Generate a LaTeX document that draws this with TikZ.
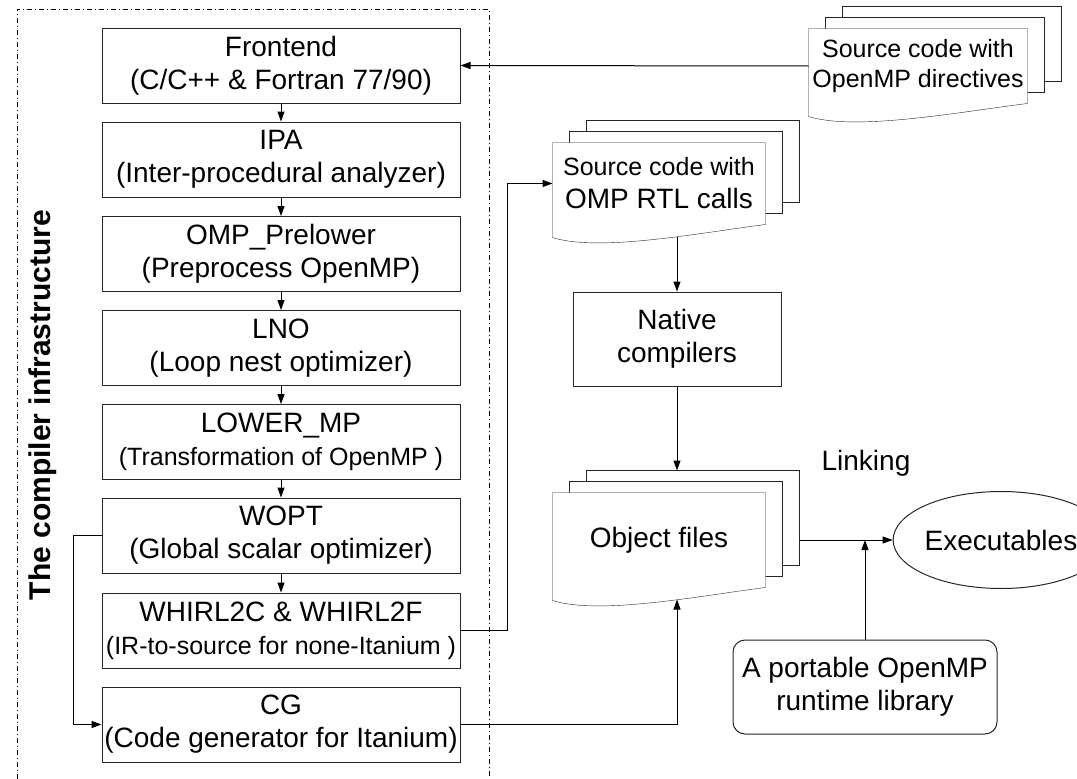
\documentclass[tikz,border=0pt]{standalone}
\usepackage{fontspec}
\setmainfont{Liberation Sans}
\usetikzlibrary{arrows.meta,backgrounds,calc,shapes.geometric}

\newcommand{\subtext}{\fontsize{25}{30}\selectfont}

% three stacked sheets behind a document node, wavy bottom on the front sheet
\newcommand{\sheetstack}[1]{%
  \begin{scope}[on background layer]
    \foreach \k in {2,1} {
      \draw[sheet] ([xshift=\k*17pt,yshift=\k*11pt]#1.south west) rectangle ([xshift=\k*17pt,yshift=\k*11pt]#1.north east);
    }
    \draw[sheet] (#1.north west) -- (#1.north east) -- (#1.south east)
      .. controls ([yshift=-8pt]$(#1.south east)!0.3!(#1.south west)$) and ([yshift=-28pt]$(#1.south west)!0.22!(#1.south east)$) .. ([yshift=-13pt]#1.south west) -- cycle;
  \end{scope}
}

\begin{document}
\begin{tikzpicture}[
        x=1pt, y=-1pt, % pixel grid, y downwards
        line width=1pt,
        font=\fontsize{28}{33}\selectfont,
        >={Triangle[length=10pt,width=7pt]},
        phase/.style={rectangle, draw=black!85, minimum width=358pt, minimum height=75pt, inner sep=0pt, align=center},
        box/.style={rectangle, draw=black!85, minimum width=208pt, minimum height=94pt, inner sep=0pt, align=center},
        doc/.style={rectangle, minimum width=212pt, inner sep=0pt, align=center},
        sheet/.style={draw=black!85, fill=white},
        frame/.style={line width=0.8pt, dash pattern=on 5pt off 3pt on 1pt off 3pt}
    ]
    \useasboundingbox (0,0) rectangle (1077,779);

    % Compiler frame and its title
    \draw[frame] (17,779) -- (17,9) -- (489,9) -- (489,779);
    \node[rotate=90, font=\bfseries\fontsize{30}{36}\selectfont] (infra) at (43,405) {The compiler infrastructure};

    % Compiler phases
    \node[phase] (fe) at (281,65.5) {Frontend\\(C/C++ \& Fortran 77/90)};
    \node[phase] (ipa) at (281,159.5) {IPA\\(Inter-procedural analyzer)};
    \node[phase] (pre) at (281,254) {OMP\_Prelower\\(Preprocess OpenMP)};
    \node[phase] (lno) at (281,348) {LNO\\(Loop nest optimizer)};
    \node[phase] (lmp) at (281,442) {LOWER\_MP\\{\subtext (Transformation of OpenMP )}};
    \node[phase] (wopt) at (281,535.5) {WOPT\\(Global scalar optimizer)};
    \node[phase] (w2c) at (281,630.5) {WHIRL2C \& WHIRL2F\\{\subtext (IR-to-source for none-Itanium )}};
    \node[phase] (cg) at (281,724.5) {CG\\(Code generator for Itanium)};

    % Documents
    \node[doc, minimum width=218pt, minimum height=74pt, font=\subtext] (omp) at (918,66) {Source code with\\OpenMP directives};
    \sheetstack{omp}
    \node[doc, minimum height=81pt] (rtl) at (659,183.5) {{\subtext Source code with}\\OMP RTL calls};
    \sheetstack{rtl}
    \node[doc, minimum height=94pt] (obj) at (659,540) {Object files};
    \sheetstack{obj}

    % Back end tools
    \node[box] (nat) at (677,339) {Native\\compilers};
    \node[ellipse, draw=black!85, minimum width=178pt, minimum height=97pt, inner sep=0pt] (exe) at (1001,540) {Executables};
    \node[box, rounded corners=12pt, minimum width=264pt] (rt) at (865,687) {A portable OpenMP\\runtime library};
    \node (lnk) at (866,463) {Linking};

    % Flow
    \draw[->] (omp.west) -- (fe.east);
    \foreach \a/\b in {fe/ipa, ipa/pre, pre/lno, lno/lmp, lmp/wopt, wopt/w2c}
        \draw[->] (\a) -- (\b);
    \draw[->] (wopt.west) -- ++(-28,0) |- (cg.west);
    \draw[->] (w2c.east) -- ++(47,0) |- (rtl.west);
    \draw[->] ([yshift=-12pt]rtl.south -| nat.north) -- (nat.north);
    \draw[->] (nat.south) -- ([yshift=22pt]obj.north -| nat.south);
    \draw[->] (cg.east) -| ([yshift=-12pt]obj.south -| nat.south);
    \draw[->] ([xshift=34pt]obj.east) -- (exe.west);
    \draw[->] (rt.north) -- (rt.north |- exe.west);

\end{tikzpicture}
\end{document}
